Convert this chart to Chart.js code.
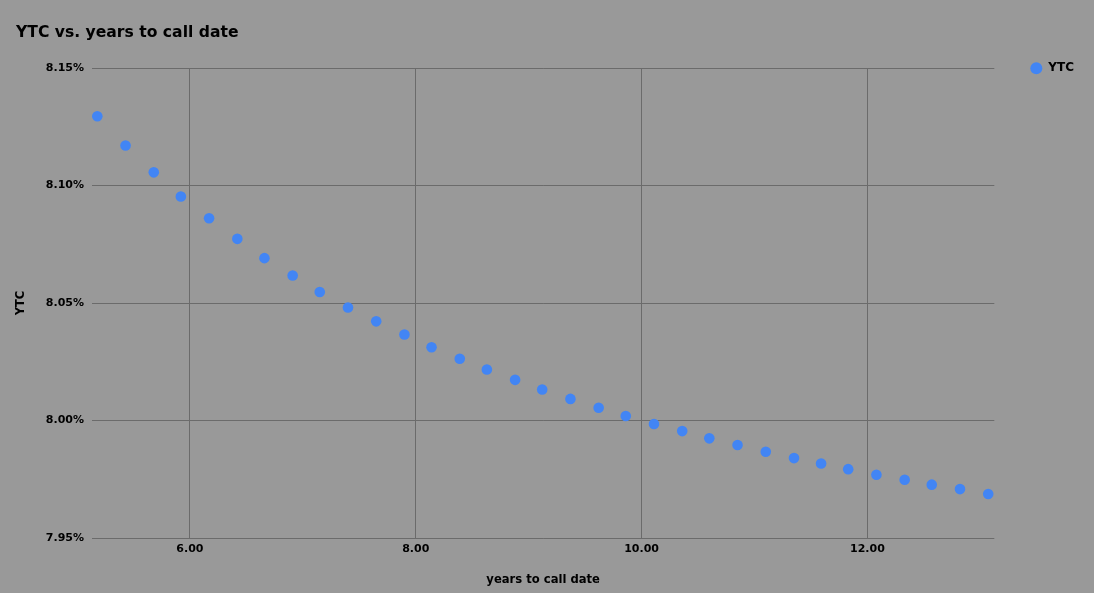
<!DOCTYPE html>
<html>
<head>
<meta charset="utf-8">
<script src="https://cdn.jsdelivr.net/npm/chart.js@4.4.0/dist/chart.umd.min.js"></script>
<style>
  html, body { margin: 0; padding: 0; background: #999999; }
  #wrap { width: 1094px; height: 593px; }
</style>
</head>
<body>
<div id="wrap"><canvas id="ytcChart"></canvas></div>
<script>
// years to call date (x) and yield to call in % (y)
const yearsToCall = [5.18, 5.43, 5.68, 5.92, 6.17, 6.42, 6.66, 6.91, 7.15, 7.40, 7.65,
  7.90, 8.14, 8.39, 8.63, 8.88, 9.12, 9.37, 9.62, 9.86, 10.11, 10.36, 10.60,
  10.85, 11.10, 11.35, 11.59, 11.83, 12.08, 12.33, 12.57, 12.82, 13.07];
const ytcPct = [8.1295, 8.1170, 8.1056, 8.0953, 8.0861, 8.0773, 8.0691, 8.0617, 8.0547,
  8.0481, 8.0422, 8.0366, 8.0312, 8.0263, 8.0217, 8.0173, 8.0132, 8.0092, 8.0054,
  8.0019, 7.9985, 7.9955, 7.9924, 7.9896, 7.9867, 7.9840, 7.9817, 7.9793, 7.9769,
  7.9748, 7.9727, 7.9708, 7.9687];
const xTickValues = [6, 8, 10, 12];
const yTickValues = [7.95, 8.00, 8.05, 8.10, 8.15];

const FONT = "'DejaVu Sans', 'Liberation Sans', sans-serif";

const points = yearsToCall.map((x, i) => ({ x: x, y: ytcPct[i] }));

new Chart(document.getElementById('ytcChart'), {
  type: 'scatter',
  data: {
    datasets: [{
      label: 'YTC',
      data: points,
      backgroundColor: '#4285f4',
      borderColor: '#4285f4',
      borderWidth: 0,
      pointRadius: 5.3,
      pointHoverRadius: 5.3,
      pointStyle: 'circle'
    }]
  },
  options: {
    responsive: true,
    maintainAspectRatio: false,
    animation: false,
    layout: { padding: { left: 16, right: 10, top: 0, bottom: 0 } },
    plugins: {
      tooltip: { enabled: false },
      title: {
        display: true,
        text: 'YTC vs. years to call date',
        align: 'start',
        color: '#000',
        font: { family: FONT, size: 15.6, weight: 'bold' },
        padding: { top: 23.2, bottom: 26.1 }
      },
      legend: {
        position: 'right',
        align: 'start',
        title: { display: true, text: ' ', font: { size: 1 }, padding: { top: 25, bottom: 0 } },
        labels: {
          usePointStyle: true,
          pointStyle: 'circle',
          pointStyleWidth: 12,
          boxHeight: 8.5,
          padding: 36,
          color: '#000',
          font: { family: FONT, size: 12, weight: 'bold' }
        }
      }
    },
    scales: {
      x: {
        type: 'linear',
        min: 5.133,
        max: 13.124,
        afterBuildTicks: s => { s.ticks = xTickValues.map(v => ({ value: v })); },
        afterFit: s => { s.height = 55; },
        ticks: {
          color: '#000',
          padding: 5,
          maxRotation: 0,
          font: { family: FONT, size: 11, weight: 'bold' },
          callback: v => Number(v).toFixed(2)
        },
        grid: { color: '#6b6b6b', lineWidth: 1, drawTicks: false },
        border: { display: false },
        title: {
          display: true,
          text: 'years to call date',
          color: '#000',
          font: { family: FONT, size: 11.6, weight: 'bold' },
          padding: { top: 0, bottom: 6.3 }
        }
      },
      y: {
        type: 'linear',
        min: 7.95,
        max: 8.15,
        afterBuildTicks: s => { s.ticks = yTickValues.map(v => ({ value: v })); },
        afterFit: s => { s.width = 76; },
        ticks: {
          color: '#000',
          padding: 8,
          font: { family: FONT, size: 11, weight: 'bold' },
          callback: v => Number(v).toFixed(2) + '%'
        },
        grid: { color: '#6b6b6b', lineWidth: 1, drawTicks: false },
        border: { display: false },
        title: {
          display: true,
          text: 'YTC',
          color: '#000',
          font: { family: FONT, size: 11.5, weight: 'bold' },
          padding: { top: -1.5, bottom: 0 }
        }
      }
    }
  }
});
</script>
</body>
</html>
